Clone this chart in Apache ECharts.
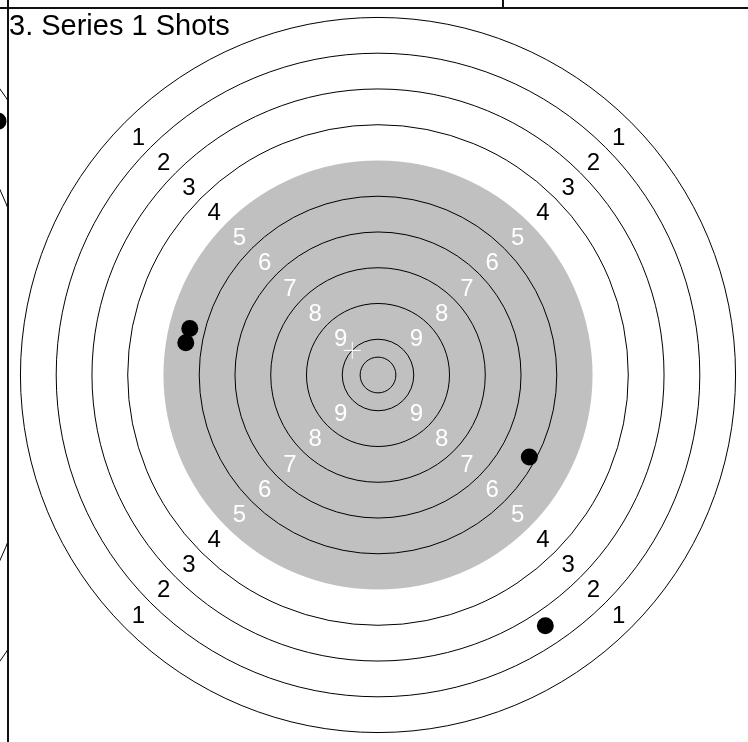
<!DOCTYPE html>
<html><head><meta charset="utf-8">
<script src="https://cdn.jsdelivr.net/npm/echarts@6/dist/echarts.min.js"></script>
<style>html,body{margin:0;padding:0;background:#fff}#c{width:748px;height:742px}</style>
</head><body><div id="c"></div>
<script>
// ---- data (target units: mm, origin = target centre, y up) ----
const titleText = '3. Series 1 Shots';
const ringScores = [1, 2, 3, 4, 5, 6, 7, 8, 9, 10];
const ringRadii = [250, 225, 200, 175, 150, 125, 100, 75, 50, 25];
const innerTenRadius = 12.5;
const blackZoneRadius = 150;
const labelScores = [1, 2, 3, 4, 5, 6, 7, 8, 9];
const labelRadii = [237.5, 212.5, 187.5, 162.5, 137.5, 112.5, 87.5, 62.5, 37.5];
const shotX = [-131.6, -134.4, 105.8, 117.0];
const shotY = [32.7, 22.7, -57.6, -176.3];
const markX = [-18.0];
const markY = [17.3];
// neighbouring panel (only its right edge is visible)
const prevShotX = [204.0];
const prevShotY = [127.8];
const xExtent = [-258.7, 258.7];
const yExtent = [-258.0, 258.0];
const prevXExtent = [205, 209];
const prevYExtent = [-184.75, 184.75];

const FONT = 'Liberation Sans, Arial, sans-serif';
const chart = echarts.init(document.getElementById('c'), null, {renderer: 'canvas'});

const circleData = ringRadii.map((r, i) => [r, ringScores[i]]).concat([[innerTenRadius, 10]]);
const labelData = labelRadii.map((r, i) => [r, labelScores[i]]);

function discItem(params, api) {
  const c = api.coord([0, 0]);
  const r = api.size([api.value(0), 0])[0];
  return {type: 'circle', shape: {cx: c[0], cy: c[1], r: r}, style: {fill: '#c0c0c0', stroke: null}};
}
function ringItem(params, api) {
  const rv = api.value(0);
  const c = api.coord([0, 0]);
  const r = api.size([rv, 0])[0];
  const edge = rv === blackZoneRadius;
  return {type: 'circle', shape: {cx: c[0], cy: c[1], r: r},
    style: {fill: null, stroke: edge ? null : '#000', lineWidth: 1}};
}
function labelItem(params, api) {
  const rv = api.value(0);
  const score = api.value(1);
  const d = rv * Math.SQRT1_2;
  const col = rv < blackZoneRadius ? '#fff' : '#000';
  const children = [[-1, 1], [1, 1], [-1, -1], [1, -1]].map(s => {
    const p = api.coord([s[0] * d, s[1] * d]);
    return {type: 'text', x: p[0] + 0.5, y: p[1] + 2,
      style: {text: String(score), fill: col, fontSize: 24, fontFamily: FONT, align: 'center', verticalAlign: 'middle'}};
  });
  return {type: 'group', children: children};
}
function markItem(params, api) {
  const p = api.coord([api.value(0), api.value(1)]);
  const h = api.size([6, 0])[0];
  return {type: 'group', children: [
    {type: 'line', shape: {x1: p[0] - h, y1: p[1], x2: p[0] + h, y2: p[1]}, style: {stroke: '#fff', lineWidth: 1}},
    {type: 'line', shape: {x1: p[0], y1: p[1] - h, x2: p[0], y2: p[1] + h}, style: {stroke: '#fff', lineWidth: 1}}
  ]};
}
function dotItem(params, api) {
  const p = api.coord([api.value(0), api.value(1)]);
  return {type: 'circle', shape: {cx: p[0], cy: p[1], r: 8.5}, style: {fill: '#000', stroke: null}};
}

const option = {
  animation: false,
  backgroundColor: '#fff',
  title: {text: titleText, left: 9, top: 12, padding: 0,
    textStyle: {fontSize: 29, fontWeight: 'normal', color: '#000', fontFamily: FONT}},
  grid: [
    {left: 8, top: 8, width: 741, height: 739, containLabel: false},
    {left: 0, top: 8, width: 8, height: 739, containLabel: false}
  ],
  xAxis: [
    {type: 'value', gridIndex: 0, min: xExtent[0], max: xExtent[1], show: false},
    {type: 'value', gridIndex: 1, min: prevXExtent[0], max: prevXExtent[1], show: false}
  ],
  yAxis: [
    {type: 'value', gridIndex: 0, min: yExtent[0], max: yExtent[1], show: false},
    {type: 'value', gridIndex: 1, min: prevYExtent[0], max: prevYExtent[1], show: false}
  ],
  graphic: [
    {type: 'line', shape: {x1: 8, y1: 0, x2: 8, y2: 742}, style: {stroke: '#111', lineWidth: 2}, z: 100},
    {type: 'line', shape: {x1: 0, y1: 8, x2: 748, y2: 8}, style: {stroke: '#111', lineWidth: 2}, z: 100},
    {type: 'line', shape: {x1: 503, y1: 0, x2: 503, y2: 8}, style: {stroke: '#111', lineWidth: 2}, z: 100}
  ],
  series: [
    {type: 'custom', xAxisIndex: 0, yAxisIndex: 0, renderItem: discItem, data: [[blackZoneRadius, 0]], z: 1, silent: true},
    {type: 'custom', xAxisIndex: 0, yAxisIndex: 0, renderItem: ringItem, data: circleData, z: 2, silent: true},
    {type: 'custom', xAxisIndex: 0, yAxisIndex: 0, renderItem: labelItem, data: labelData, z: 3, silent: true},
    {type: 'scatter', xAxisIndex: 0, yAxisIndex: 0, data: shotX.map((x, i) => [x, shotY[i]]), symbol: 'circle', symbolSize: 17,
      itemStyle: {color: '#000', opacity: 1}, z: 4, silent: true},
    {type: 'custom', xAxisIndex: 0, yAxisIndex: 0, renderItem: markItem, data: markX.map((x, i) => [x, markY[i]]), z: 5, silent: true},
    // neighbouring panel, clipped to its own narrow grid
    {type: 'custom', xAxisIndex: 1, yAxisIndex: 1, renderItem: ringItem, data: circleData, clip: true, z: 2, silent: true},
    {type: 'custom', xAxisIndex: 1, yAxisIndex: 1, renderItem: dotItem, data: prevShotX.map((x, i) => [x, prevShotY[i]]), clip: true, z: 4, silent: true}
  ]
};
chart.setOption(option);
</script>
</body></html>
